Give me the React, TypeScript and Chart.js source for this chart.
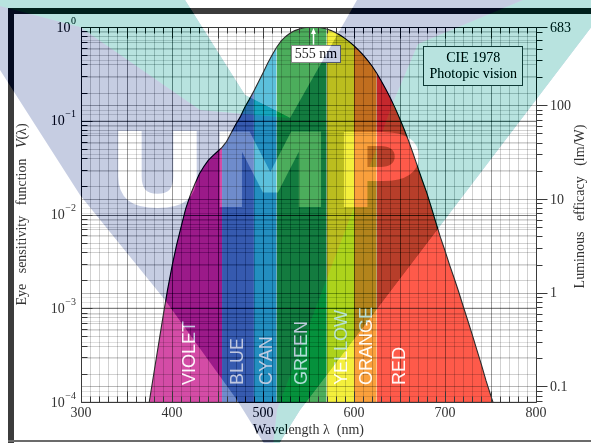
import React, { useEffect, useRef } from 'react';
import { Chart, registerables } from 'chart.js';

Chart.register(...registerables);

// ---------- data ----------
const wavelengthNm = [
  370, 375, 380, 385, 390, 395, 400, 405, 410, 415, 420, 425, 430, 435, 440, 445, 450, 455, 460, 465,
  470, 475, 480, 485, 490, 495, 500, 505, 510, 515, 520, 525, 530, 535, 540, 545, 550, 555, 560, 565,
  570, 575, 580, 585, 590, 595, 600, 605, 610, 615, 620, 625, 630, 635, 640, 645, 650, 655, 660, 665,
  670, 675, 680, 685, 690, 695, 700, 705, 710, 715, 720, 725, 730, 735, 740, 745, 750, 755, 760,
];
const eyeSensitivity = [
  0.00005, 0.0001, 0.0002, 0.0004, 0.0008, 0.00155, 0.0028, 0.0047, 0.0074, 0.0115, 0.016, 0.021, 0.027, 0.0325, 0.038, 0.0425, 0.047, 0.052, 0.06, 0.074,
  0.091, 0.11, 0.139, 0.169, 0.208, 0.259, 0.323, 0.407, 0.503, 0.608, 0.71, 0.793, 0.862, 0.915, 0.954, 0.98, 0.995, 1.0, 0.995, 0.979,
  0.952, 0.915, 0.87, 0.816, 0.757, 0.695, 0.631, 0.567, 0.503, 0.441, 0.381, 0.321, 0.265, 0.217, 0.175, 0.138, 0.107, 0.0816, 0.061, 0.0446,
  0.032, 0.0232, 0.017, 0.0119, 0.0082, 0.0057, 0.0041, 0.0029, 0.0021, 0.0015, 0.00105, 0.00074, 0.00052, 0.00036, 0.00025, 0.00017, 0.00012, 0.000085, 0.00006,
];

const bandNames = ['VIOLET', 'BLUE', 'CYAN', 'GREEN', 'YELLOW', 'ORANGE', 'RED'];
const bandStartNm = [370, 455, 490, 515, 570, 600, 625];
const bandColors = ['#d44ca6', '#6f8ccc', '#5cc0dc', '#4cad5c', '#f4ef3c', '#faa03c', '#fe5a4a'];
const bandLabelNm = [420, 472.5, 504.5, 543, 587, 614.5, 650.5];

const xTickLabels = [300, 400, 500, 600, 700, 800];
const leftExponents = [-4, -3, -2, -1, 0];
const rightTickValues = [0.1, 1, 10, 100, 683];
const rightTickLabels = ['0.1', '1', '10', '100', '683'];

const peakNm = 555;
const maxEfficacy = 683;

// ---------- decoration (page frame + watermark) ----------
const W = 591;
const H = 443;
const SERIF = '"Liberation Serif", "Times New Roman", serif';
const SANS = '"Liberation Sans", Arial, sans-serif';
const TEXT = '#333';

const overlayShape = [
  [0, 0], [185, 0], [245, 95], [290, 118], [357, 0], [612, 0], [300, 410], [272, 455],
  [268, 450], [237, 400], [165, 300], [80, 195], [0, 70],
];
const tealLeft = [[0, 0], [185, 0], [245, 95], [290, 118], [200, 110], [80, 27], [0, 6]];
const tealRight = [[523, 0], [612, 0], [300, 410], [272, 455], [277, 410], [377, 147], [392, 105], [418, 44]];
const lavender = [198, 205, 226];
const teal = [184, 227, 223];
const logoBox = { left: 118, right: 420, top: 130, bottom: 207 };

function bandIndex(nm: number) {
  let idx = 0;
  for (let i = 0; i < bandStartNm.length; i++) if (nm >= bandStartNm[i]) idx = i;
  return idx;
}

function poly(ctx: CanvasRenderingContext2D, pts: number[][]) {
  ctx.beginPath();
  pts.forEach(([x, y], i) => (i ? ctx.lineTo(x, y) : ctx.moveTo(x, y)));
  ctx.closePath();
}

function drawWatermark(ctx: CanvasRenderingContext2D) {
  const off = document.createElement('canvas');
  off.width = W;
  off.height = H;
  const o = off.getContext('2d')!;
  const inv = (c: number[]) => `rgb(${255 - c[0]},${255 - c[1]},${255 - c[2]})`;
  o.fillStyle = inv(lavender);
  poly(o, overlayShape);
  o.fill();
  o.fillStyle = inv(teal);
  poly(o, tealLeft);
  o.fill();
  poly(o, tealRight);
  o.fill();
  // letters are holes in the overlay
  o.globalCompositeOperation = 'destination-out';
  o.font = 'bold 100px "DejaVu Sans", sans-serif';
  o.textBaseline = 'alphabetic';
  o.textAlign = 'left';
  const m = o.measureText('UMP');
  const tw = m.actualBoundingBoxLeft + m.actualBoundingBoxRight;
  const th = m.actualBoundingBoxAscent;
  o.save();
  o.translate(logoBox.left, logoBox.bottom);
  o.scale((logoBox.right - logoBox.left) / tw, (logoBox.bottom - logoBox.top) / th);
  o.fillStyle = '#000';
  o.fillText('UMP', m.actualBoundingBoxLeft, 0);
  o.restore();

  // linear burn: result = base + blend - 255
  ctx.save();
  ctx.globalCompositeOperation = 'difference';
  ctx.fillStyle = '#fff';
  ctx.fillRect(0, 0, W, H);
  ctx.globalCompositeOperation = 'lighter';
  ctx.drawImage(off, 0, 0);
  ctx.globalCompositeOperation = 'difference';
  ctx.fillRect(0, 0, W, H);
  ctx.restore();
}

function line(ctx: CanvasRenderingContext2D, x1: number, y1: number, x2: number, y2: number) {
  ctx.beginPath();
  ctx.moveTo(x1, y1);
  ctx.lineTo(x2, y2);
  ctx.stroke();
}

function drawGrid(chart: any) {
  const { ctx, chartArea: a, scales } = chart;
  const xs = scales.x, ys = scales.y, rs = scales.y2;
  ctx.save();
  ctx.beginPath();
  ctx.rect(a.left, a.top, a.right - a.left, a.bottom - a.top);
  ctx.clip();
  ctx.lineWidth = 1;
  for (let w = 300; w <= 800; w += 10) {
    const x = Math.round(xs.getPixelForValue(w)) + 0.5;
    ctx.strokeStyle = w % 50 === 0 ? 'rgba(0,0,0,0.4)' : 'rgba(0,0,0,0.18)';
    line(ctx, x, a.top, x, a.bottom);
  }
  for (let e = -2; e <= 2; e++) {
    for (let k = 1; k <= 9; k++) {
      const v = k * Math.pow(10, e);
      if (v < rs.min || v > rs.max) continue;
      const y = Math.round(rs.getPixelForValue(v)) + 0.5;
      ctx.strokeStyle = k === 1 ? 'rgba(0,0,0,0.28)' : 'rgba(0,0,0,0.12)';
      line(ctx, a.left, y, a.right, y);
    }
  }
  for (let e = -4; e <= 0; e++) {
    for (let k = 1; k <= 9; k++) {
      const v = k * Math.pow(10, e);
      if (v > 1.0000001) break;
      const y = Math.round(ys.getPixelForValue(v)) + 0.5;
      ctx.strokeStyle = k === 1 ? 'rgba(0,0,0,0.5)' : 'rgba(0,0,0,0.18)';
      line(ctx, a.left, y, a.right, y);
    }
  }
  ctx.restore();
}

function rotatedText(ctx: CanvasRenderingContext2D, cx: number, cy: number, parts: { t: string; f: string }[]) {
  ctx.save();
  ctx.translate(cx, cy);
  ctx.rotate(-Math.PI / 2);
  const widths = parts.map((p) => {
    ctx.font = p.f;
    return ctx.measureText(p.t).width;
  });
  let x = -widths.reduce((s, v) => s + v, 0) / 2;
  ctx.textAlign = 'left';
  ctx.textBaseline = 'middle';
  parts.forEach((p, i) => {
    ctx.font = p.f;
    ctx.fillText(p.t, x, 0);
    x += widths[i];
  });
  ctx.restore();
}

function drawAxes(chart: any) {
  const { ctx, chartArea: a, scales } = chart;
  const xs = scales.x, ys = scales.y, rs = scales.y2;
  const L = Math.round(a.left) + 0.5, R = Math.round(a.right) + 0.5;
  const T = Math.round(a.top) + 0.5, B = Math.round(a.bottom) + 0.5;
  ctx.save();
  ctx.strokeStyle = '#3a3a3a';
  ctx.lineWidth = 1;
  line(ctx, L, T, R, T);
  line(ctx, L, B, R, B);
  line(ctx, L, T, L, B);
  line(ctx, R, T, R, B);
  // x ticks (inward, top and bottom)
  for (let w = 300; w <= 800; w += 10) {
    const x = Math.round(xs.getPixelForValue(w)) + 0.5;
    const len = w % 50 === 0 ? 11 : 6;
    line(ctx, x, B, x, B - len);
    line(ctx, x, T, x, T + len);
  }
  // left ticks (inward)
  for (let e = -4; e <= 0; e++) {
    for (let k = 1; k <= 9; k++) {
      const v = k * Math.pow(10, e);
      if (v > 1.0000001) break;
      const y = Math.round(ys.getPixelForValue(v)) + 0.5;
      line(ctx, L, y, L + (k === 1 ? 11 : 6), y);
    }
  }
  // right ticks (outward)
  for (let e = -2; e <= 2; e++) {
    for (let k = 1; k <= 9; k++) {
      const v = k * Math.pow(10, e);
      if (v < rs.min || v > rs.max) continue;
      const y = Math.round(rs.getPixelForValue(v)) + 0.5;
      line(ctx, R, y, R + (k === 1 ? 11 : 6), y);
    }
  }
  const yTop = Math.round(rs.getPixelForValue(maxEfficacy)) + 0.5;
  line(ctx, R, yTop, R + 11, yTop);

  ctx.fillStyle = TEXT;
  // bottom labels
  ctx.font = `14px ${SERIF}`;
  ctx.textAlign = 'center';
  ctx.textBaseline = 'top';
  xTickLabels.forEach((v) => ctx.fillText(String(v), xs.getPixelForValue(v), a.bottom + 4));
  // left labels 10^n
  leftExponents.forEach((e) => {
    const y = ys.getPixelForValue(Math.pow(10, e));
    const exp = e === 0 ? '0' : '\u2212' + Math.abs(e);
    ctx.textAlign = 'right';
    ctx.textBaseline = 'middle';
    ctx.font = `10px ${SERIF}`;
    const ew = ctx.measureText(exp).width;
    ctx.fillText(exp, a.left - 5, y - 6);
    ctx.font = `14px ${SERIF}`;
    ctx.fillText('10', a.left - 5 - ew - 0.5, y + 1);
  });
  // right labels
  ctx.font = `14px ${SERIF}`;
  ctx.textAlign = 'left';
  ctx.textBaseline = 'middle';
  rightTickValues.forEach((v, i) => ctx.fillText(rightTickLabels[i], a.right + 14, rs.getPixelForValue(v) + 1));

  // axis titles
  ctx.textAlign = 'center';
  ctx.textBaseline = 'middle';
  ctx.font = `14px ${SERIF}`;
  ctx.fillText('Wavelength \u03bb  (nm)', (a.left + a.right) / 2, a.bottom + 28);
  rotatedText(ctx, 22, (a.top + a.bottom) / 2, [
    { t: 'Eye   sensitivity   function   ', f: `14px ${SERIF}` },
    { t: 'V', f: `italic 14px ${SERIF}` },
    { t: '(\u03bb)', f: `14px ${SERIF}` },
  ]);
  rotatedText(ctx, 580, (a.top + a.bottom) / 2 - 8, [{ t: 'Luminous   efficacy   (lm/W)', f: `14px ${SERIF}` }]);
  ctx.restore();
}

function drawAnnotations(chart: any) {
  const { ctx, scales } = chart;
  const xs = scales.x, ys = scales.y;
  ctx.save();
  // band names
  ctx.font = `18px ${SANS}`;
  ctx.fillStyle = 'rgba(255,255,255,0.95)';
  bandNames.forEach((name, i) => {
    ctx.save();
    ctx.translate(xs.getPixelForValue(bandLabelNm[i]), ys.getPixelForValue(1.52e-4));
    ctx.rotate(-Math.PI / 2);
    ctx.textAlign = 'left';
    ctx.textBaseline = 'middle';
    ctx.fillText(name, 0, 0);
    ctx.restore();
  });
  // 555 nm marker
  const px = Math.round(xs.getPixelForValue(peakNm)) + 0.5;
  const top = ys.getPixelForValue(1);
  const bx = px + 2.5, by = ys.getPixelForValue(0.52);
  ctx.strokeStyle = '#fff';
  ctx.fillStyle = '#fff';
  ctx.lineWidth = 1.5;
  line(ctx, px, by - 9, px, top + 5);
  ctx.beginPath();
  ctx.moveTo(px, top + 1);
  ctx.lineTo(px - 2.5, top + 7);
  ctx.lineTo(px + 2.5, top + 7);
  ctx.closePath();
  ctx.fill();
  ctx.font = `14px ${SERIF}`;
  const tw = ctx.measureText('555 nm').width;
  ctx.fillRect(Math.round(bx - tw / 2 - 4), Math.round(by - 9), Math.round(tw + 8), 18);
  ctx.strokeStyle = '#8a8a8a';
  ctx.lineWidth = 1;
  ctx.strokeRect(Math.round(bx - tw / 2 - 4) + 0.5, Math.round(by - 9) + 0.5, Math.round(tw + 8) - 1, 17);
  ctx.fillStyle = '#222';
  ctx.textAlign = 'center';
  ctx.textBaseline = 'middle';
  ctx.fillText('555 nm', bx, by + 1);
  // CIE legend box
  const cx = xs.getPixelForValue(731), cy = ys.getPixelForValue(0.385);
  ctx.fillStyle = '#fff';
  ctx.fillRect(Math.round(cx - 50), Math.round(cy - 20), 100, 40);
  ctx.strokeStyle = '#555';
  ctx.strokeRect(Math.round(cx - 50) + 0.5, Math.round(cy - 20) + 0.5, 99, 39);
  ctx.fillStyle = '#222';
  ctx.fillText('CIE 1978', cx, cy - 8);
  ctx.fillText('Photopic vision', cx, cy + 8);
  ctx.restore();
}

const decoPlugin = {
  id: 'deco',
  beforeDraw(chart: any) {
    const ctx = chart.ctx;
    ctx.save();
    ctx.fillStyle = '#fff';
    ctx.fillRect(0, 0, W, H);
    ctx.fillStyle = '#3c3c3c';
    ctx.fillRect(8, 8, W - 8, 6);
    ctx.fillRect(8, 8, 6, H - 8);
    ctx.fillStyle = '#6b6b6b';
    ctx.fillRect(8, 440, W - 8, 2);
    ctx.restore();
  },
  beforeDatasetsDraw(chart: any) {
    drawGrid(chart);
  },
  afterDraw(chart: any) {
    drawAxes(chart);
    drawAnnotations(chart);
    drawWatermark(chart.ctx);
  },
};

export default function App() {
  const ref = useRef<HTMLCanvasElement>(null);
  useEffect(() => {
    const canvas = ref.current!;
    const chart = new Chart(canvas, {
      type: 'line',
      data: {
        datasets: [
          {
            data: wavelengthNm.map((w, i) => ({ x: w, y: eyeSensitivity[i] })),
            borderColor: '#2b2b2b',
            borderWidth: 1.1,
            pointRadius: 0,
            fill: 'start',
            backgroundColor: bandColors[0],
            segment: {
              backgroundColor: (c: any) => bandColors[bandIndex(c.p0.parsed.x)],
            },
          } as any,
        ],
      },
      options: {
        animation: false,
        responsive: false,
        devicePixelRatio: 1,
        events: [],
        layout: { padding: { top: 27, left: 0, right: 0, bottom: 0 } },
        plugins: {
          legend: { display: false },
          tooltip: { enabled: false },
          filler: { drawTime: 'beforeDatasetsDraw' },
        } as any,
        scales: {
          x: {
            type: 'linear', min: 300, max: 800, position: 'bottom',
            grid: { display: false }, border: { display: false }, ticks: { display: false },
            afterFit: (s: any) => { s.height = 41; },
          },
          y: {
            type: 'logarithmic', min: 1e-4, max: 1, position: 'left',
            grid: { display: false }, border: { display: false }, ticks: { display: false },
            afterFit: (s: any) => { s.width = 81; },
          },
          y2: {
            type: 'logarithmic', min: maxEfficacy * 1e-4, max: maxEfficacy, position: 'right',
            grid: { display: false }, border: { display: false }, ticks: { display: false },
            afterFit: (s: any) => { s.width = 55; },
          },
        } as any,
      },
      plugins: [decoPlugin],
    });
    return () => chart.destroy();
  }, []);
  return (
    <div style={{ position: 'absolute', left: 0, top: 0, width: W, height: H }}>
      <canvas ref={ref} width={W} height={H} style={{ display: 'block', width: W, height: H }} />
    </div>
  );
}
